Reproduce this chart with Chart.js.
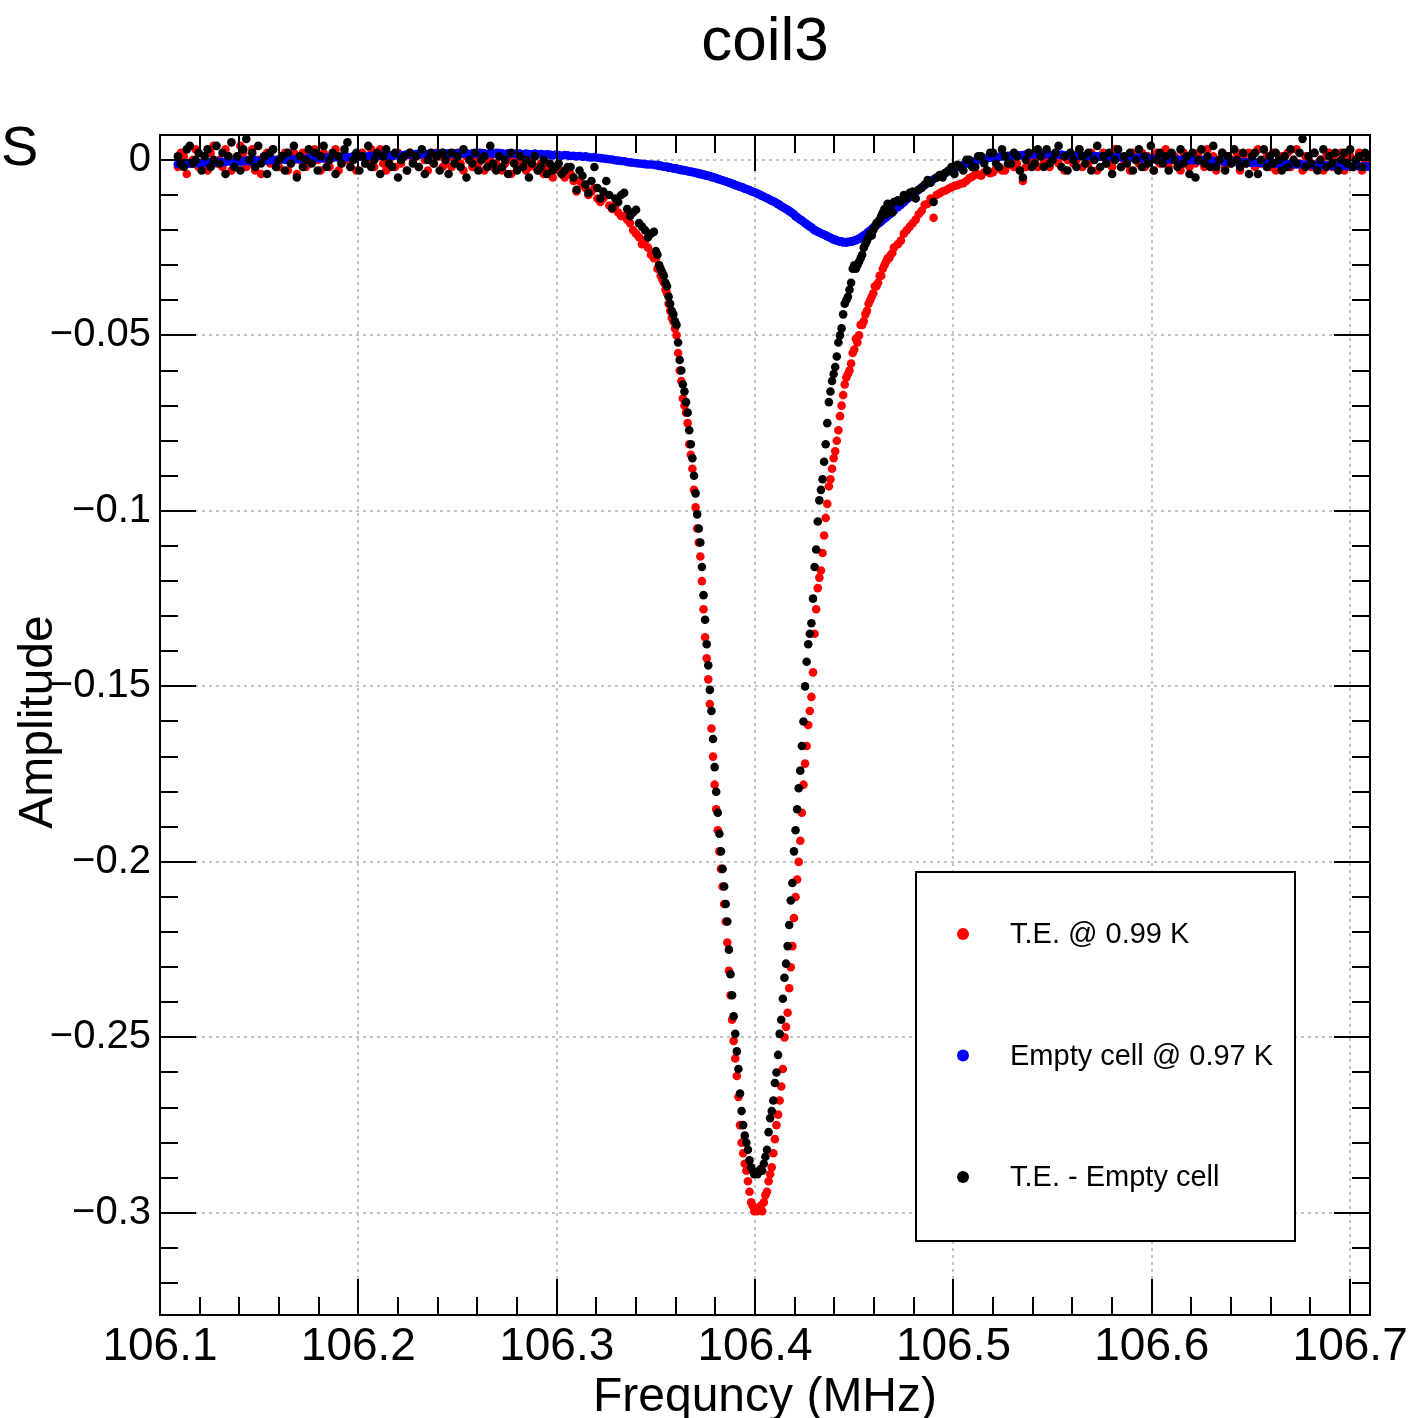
<!DOCTYPE html>
<html>
<head>
<meta charset="utf-8">
<script src="https://cdn.jsdelivr.net/npm/chart.js@4.4.1/dist/chart.umd.min.js"></script>
<style>
html,body{margin:0;padding:0;background:#fff}
#wrap{width:1414px;height:1418px}
</style>
</head>
<body>
<div id="wrap"><canvas id="c" width="1414" height="1418"></canvas></div>
<script>
/* frequency sweep: three segments, finer step across the dip */
const sweepA = {start: 106.109, step: 0.0015, count: 161};
const sweepB = {start: 106.350, step: 0.0008, count: 151};
const sweepC = {start: 106.472, step: 0.0015, count: 159};

const seriesLabels = ['T.E. @ 0.99 K', 'Empty cell @ 0.97 K', 'T.E. - Empty cell'];
const seriesColors = ['#ff0000', '#0000ff', '#000000'];

/* T.E. @ 0.99 K */
const teValues = [
// A
-0.002,0.002,0.001,-0.004,-0.001,0.000,0.003,-0.002,-0.001,0.001,
-0.003,0.002,0.004,-0.001,0.000,-0.002,0.003,0.001,-0.003,-0.001,
0.001,0.004,0.002,-0.002,-0.001,0.003,-0.003,0.000,-0.004,0.001,
0.002,-0.001,0.003,0.000,-0.002,0.001,0.002,-0.003,-0.001,0.002,
-0.004,0.000,0.002,-0.002,-0.001,0.001,0.003,0.000,-0.003,0.002,
0.000,-0.002,0.001,0.003,-0.003,-0.001,0.002,0.000,-0.002,0.001,
-0.003,0.001,0.002,-0.001,0.000,0.003,-0.002,0.001,0.003,-0.001,
-0.003,0.000,0.001,-0.002,0.002,-0.001,0.001,-0.003,0.002,0.000,
0.001,-0.002,0.002,0.000,-0.003,0.001,-0.001,0.002,0.001,-0.002,
-0.001,0.001,-0.002,0.000,0.002,-0.001,-0.003,0.001,0.000,-0.002,
0.001,-0.001,0.002,-0.003,0.000,0.001,-0.002,-0.001,0.002,-0.003,
-0.001,0.000,-0.004,0.001,-0.002,-0.001,0.001,-0.003,-0.002,0.000,
-0.002,-0.003,-0.001,-0.004,-0.002,-0.003,-0.005,-0.002,-0.003,-0.004,
-0.005,-0.003,-0.004,-0.006,-0.009,-0.006,-0.007,-0.008,-0.010,-0.009,
-0.008,-0.011,-0.012,-0.011,-0.010,-0.013,-0.014,-0.013,-0.015,-0.016,
-0.016,-0.017,-0.018,-0.020,-0.021,-0.022,-0.024,-0.023,-0.025,-0.027,
-0.028,
// B
-0.028,-0.031,-0.030,-0.033,-0.034,-0.035,-0.037,-0.038,-0.041,-0.043,
-0.045,-0.046,-0.048,-0.050,-0.055,-0.060,-0.063,-0.068,-0.070,-0.072,
-0.075,-0.081,-0.084,-0.088,-0.094,-0.099,-0.105,-0.109,-0.113,-0.120,
-0.128,-0.136,-0.142,-0.148,-0.155,-0.162,-0.170,-0.178,-0.185,-0.191,
-0.197,-0.202,-0.207,-0.212,-0.217,-0.223,-0.231,-0.238,-0.245,-0.251,
-0.256,-0.261,-0.267,-0.275,-0.280,-0.283,-0.286,-0.288,-0.291,-0.294,
-0.297,-0.298,-0.2995,-0.299,-0.2995,-0.299,-0.298,-0.2995,-0.297,-0.295,
-0.294,-0.291,-0.289,-0.287,-0.283,-0.279,-0.275,-0.272,-0.268,-0.264,
-0.259,-0.250,-0.247,-0.243,-0.236,-0.230,-0.224,-0.216,-0.210,-0.205,
-0.200,-0.194,-0.186,-0.178,-0.172,-0.167,-0.161,-0.157,-0.153,-0.146,
-0.135,-0.128,-0.122,-0.119,-0.117,-0.112,-0.107,-0.102,-0.098,-0.093,
-0.091,-0.088,-0.085,-0.083,-0.080,-0.077,-0.073,-0.070,-0.067,-0.064,
-0.062,-0.061,-0.060,-0.058,-0.055,-0.054,-0.051,-0.052,-0.050,-0.047,
-0.047,-0.046,-0.044,-0.043,-0.041,-0.040,-0.039,-0.038,-0.036,-0.036,
-0.035,-0.033,-0.033,-0.031,-0.030,-0.029,-0.028,-0.028,-0.027,-0.0265,
-0.025,
// C
-0.024,-0.023,-0.021,-0.020,-0.019,-0.018,-0.017,-0.0155,-0.0145,-0.0128,
-0.0125,-0.011,-0.0165,-0.010,-0.0095,-0.009,-0.0087,-0.0082,-0.0078,-0.0074,
-0.0072,-0.0068,-0.0066,-0.006,-0.0052,-0.0048,-0.004,-0.0042,-0.0045,-0.0035,
-0.003,-0.0038,-0.0035,-0.0025,-0.002,-0.003,-0.003,-0.0015,-0.001,-0.002,
-0.001,-0.003,-0.006,-0.002,0.001,-0.001,0.000,-0.002,0.002,-0.001,
0.001,-0.002,0.000,0.002,-0.001,0.001,-0.003,0.000,0.002,-0.001,
0.000,0.003,-0.002,0.001,-0.001,0.002,0.000,-0.003,0.001,0.002,
-0.001,0.000,-0.002,0.003,0.001,-0.002,0.000,0.001,-0.003,0.002,
0.000,-0.001,0.002,-0.002,0.001,0.000,-0.003,0.002,-0.001,0.001,
0.003,-0.002,0.000,0.001,-0.001,-0.003,0.002,0.000,-0.002,0.001,
-0.001,0.002,0.000,-0.002,0.003,-0.001,0.001,-0.003,0.000,0.002,
-0.002,0.001,-0.001,0.000,0.002,-0.003,0.001,-0.001,0.002,0.000,
-0.002,0.003,-0.001,0.000,0.001,-0.002,0.002,-0.003,0.000,0.001,
-0.001,0.002,-0.002,0.000,0.003,-0.001,-0.003,0.001,0.000,-0.002,
0.002,-0.001,0.000,-0.003,0.001,0.002,-0.002,0.000,-0.001,0.002,
-0.003,0.000,0.001,-0.002,-0.001,0.002,-0.003,0.000,-0.001
];

/* Empty cell @ 0.97 K */
const emptyValues = [
// A
-0.0012,-0.0011,-0.0010,-0.0012,-0.0009,-0.0011,-0.0008,-0.0010,-0.0009,-0.0007,
-0.0009,-0.0006,-0.0008,-0.0007,-0.0005,-0.0007,-0.0006,-0.0004,-0.0006,-0.0005,
-0.0003,-0.0005,-0.0004,-0.0002,-0.0004,-0.0003,-0.0001,-0.0003,-0.0002,0.0000,
-0.0002,-0.0001,0.0001,-0.0001,0.0000,0.0002,0.0000,0.0001,0.0003,0.0001,
0.0002,0.0004,0.0002,0.0003,0.0005,0.0003,0.0004,0.0006,0.0004,0.0005,
0.0007,0.0005,0.0006,0.0008,0.0006,0.0007,0.0009,0.0007,0.0008,0.0010,
0.0008,0.0009,0.0011,0.0009,0.0010,0.0012,0.0010,0.0011,0.0013,0.0011,
0.0012,0.0014,0.0012,0.0013,0.0015,0.0013,0.0014,0.0016,0.0014,0.0015,
0.0017,0.0015,0.0016,0.0018,0.0016,0.0017,0.0019,0.0017,0.0018,0.0020,
0.0018,0.0019,0.0017,0.0019,0.0018,0.0020,0.0018,0.0019,0.0017,0.0019,
0.0018,0.0020,0.0018,0.0019,0.0017,0.0019,0.0018,0.0020,0.0018,0.0019,
0.0017,0.0019,0.0018,0.0017,0.0019,0.0018,0.0016,0.0018,0.0017,0.0016,
0.0018,0.0016,0.0017,0.0015,0.0016,0.0015,0.0013,0.0015,0.0014,0.0012,
0.0014,0.0013,0.0011,0.0012,0.0010,0.0011,0.0009,0.0010,0.0008,0.0007,
0.0008,0.0006,0.0005,0.0004,0.0003,0.0002,0.0001,-0.0001,-0.0002,-0.0003,
-0.0004,-0.0006,-0.0007,-0.0008,-0.0009,-0.0010,-0.0011,-0.0012,-0.0013,-0.0013,
-0.0014,
// B
-0.0015,-0.0014,-0.0017,-0.0016,-0.0018,-0.0019,-0.0020,-0.0019,-0.0022,-0.0021,
-0.0023,-0.0024,-0.0025,-0.0024,-0.0027,-0.0027,-0.0029,-0.0028,-0.0031,-0.0030,
-0.0032,-0.0033,-0.0034,-0.0034,-0.0036,-0.0037,-0.0037,-0.0040,-0.0039,-0.0042,
-0.0041,-0.0044,-0.0044,-0.0046,-0.0046,-0.0049,-0.0049,-0.0051,-0.0052,-0.0054,
-0.0055,-0.0057,-0.0058,-0.0060,-0.0061,-0.0063,-0.0064,-0.0066,-0.0068,-0.0069,
-0.0072,-0.0072,-0.0075,-0.0076,-0.0078,-0.0079,-0.0082,-0.0083,-0.0085,-0.0086,
-0.0089,-0.0090,-0.0092,-0.0094,-0.0096,-0.0098,-0.0101,-0.0102,-0.0105,-0.0107,
-0.0109,-0.0111,-0.0114,-0.0116,-0.0118,-0.0120,-0.0123,-0.0126,-0.0128,-0.0132,
-0.0134,-0.0137,-0.0140,-0.0142,-0.0146,-0.0148,-0.0152,-0.0155,-0.0161,-0.0163,
-0.0167,-0.0170,-0.0173,-0.0176,-0.0180,-0.0183,-0.0186,-0.0190,-0.0192,-0.0197,
-0.0200,-0.0202,-0.0205,-0.0206,-0.0209,-0.0211,-0.0213,-0.0215,-0.0218,-0.0219,
-0.0222,-0.0224,-0.0227,-0.0227,-0.0230,-0.0231,-0.0233,-0.0232,-0.0235,-0.0234,
-0.0236,-0.0233,-0.0234,-0.0232,-0.0232,-0.0230,-0.0229,-0.0226,-0.0225,-0.0221,
-0.0219,-0.0215,-0.0213,-0.0208,-0.0205,-0.0201,-0.0197,-0.0193,-0.0190,-0.0186,
-0.0182,-0.0179,-0.0175,-0.0171,-0.0167,-0.0164,-0.0160,-0.0156,-0.0153,-0.0149,
-0.0145,
// C
-0.0135,-0.0128,-0.0121,-0.0113,-0.0106,-0.0099,-0.0092,-0.0085,-0.0078,-0.0072,
-0.0066,-0.0061,-0.0055,-0.0051,-0.0046,-0.0042,-0.0037,-0.0033,-0.0029,-0.0025,
-0.0021,-0.0018,-0.0014,-0.0011,-0.0008,-0.0006,-0.0003,-0.0001,0.0001,0.0003,
0.0004,0.0006,0.0007,0.0008,0.0009,0.0010,0.0011,0.0012,0.0012,0.0013,
0.0014,0.0013,0.0014,0.0015,0.0014,0.0015,0.0016,0.0015,0.0016,0.0015,
0.0016,0.0015,0.0014,0.0015,0.0014,0.0015,0.0013,0.0014,0.0013,0.0012,
0.0013,0.0012,0.0011,0.0012,0.0011,0.0010,0.0011,0.0010,0.0009,0.0010,
0.0009,0.0008,0.0009,0.0008,0.0007,0.0008,0.0007,0.0006,0.0007,0.0006,
0.0005,0.0006,0.0005,0.0004,0.0005,0.0004,0.0003,0.0004,0.0003,0.0002,
0.0003,0.0002,0.0001,0.0002,0.0001,0.0000,0.0001,0.0000,-0.0001,0.0000,
-0.0001,-0.0002,-0.0001,-0.0002,-0.0003,-0.0002,-0.0003,-0.0004,-0.0003,-0.0004,
-0.0005,-0.0004,-0.0005,-0.0006,-0.0005,-0.0006,-0.0007,-0.0006,-0.0007,-0.0008,
-0.0007,-0.0008,-0.0009,-0.0008,-0.0009,-0.0010,-0.0009,-0.0010,-0.0011,-0.0010,
-0.0011,-0.0012,-0.0011,-0.0012,-0.0013,-0.0012,-0.0013,-0.0014,-0.0013,-0.0014,
-0.0015,-0.0014,-0.0015,-0.0016,-0.0015,-0.0016,-0.0017,-0.0016,-0.0017,-0.0016,
-0.0017,-0.0018,-0.0017,-0.0018,-0.0017,-0.0018,-0.0019,-0.0018,-0.0019
];

/* T.E. - Empty cell */
const diffValues = [
// A
0.001,-0.001,-0.002,0.003,0.004,-0.001,0.000,0.002,-0.003,0.001,
0.003,-0.002,0.000,0.004,-0.001,0.002,-0.004,0.001,0.005,-0.002,
0.001,-0.003,0.003,0.006,0.000,0.002,-0.002,0.004,-0.001,0.001,
-0.004,0.002,0.003,-0.002,0.000,0.001,-0.003,0.002,-0.001,0.004,
-0.005,0.001,-0.002,0.000,0.003,-0.001,0.002,-0.003,0.001,0.004,
-0.002,0.000,0.002,-0.004,0.001,-0.001,0.003,0.005,-0.002,0.000,
0.002,-0.003,0.001,-0.001,0.004,-0.002,0.000,0.002,-0.004,0.001,
0.003,-0.001,-0.002,0.002,-0.005,0.000,0.001,-0.003,0.002,-0.001,
0.001,-0.002,0.003,-0.004,0.000,0.002,-0.001,0.001,-0.003,0.002,
0.000,-0.004,0.002,-0.001,0.001,-0.002,0.003,-0.005,0.000,-0.001,
0.002,-0.003,0.000,0.001,-0.002,0.004,-0.001,-0.003,0.001,-0.002,
0.000,-0.004,0.002,-0.001,-0.003,0.001,-0.002,0.000,-0.005,-0.001,
0.001,-0.003,-0.002,0.000,-0.004,-0.001,-0.003,-0.002,-0.001,-0.004,
-0.003,-0.002,-0.002,-0.005,-0.0085,-0.003,-0.0045,-0.007,-0.0094,-0.006,
-0.002,-0.008,-0.011,-0.009,-0.006,-0.010,-0.0137,-0.011,-0.012,-0.010,
-0.0094,-0.014,-0.016,-0.015,-0.0142,-0.018,-0.019,-0.020,-0.022,-0.021,
-0.0205,
// B
-0.026,-0.027,-0.030,-0.031,-0.032,-0.033,-0.035,-0.036,-0.039,-0.041,
-0.043,-0.044,-0.046,-0.047,-0.052,-0.057,-0.060,-0.064,-0.066,-0.069,
-0.072,-0.077,-0.081,-0.085,-0.090,-0.095,-0.101,-0.105,-0.109,-0.116,
-0.124,-0.131,-0.138,-0.144,-0.151,-0.157,-0.165,-0.173,-0.180,-0.186,
-0.192,-0.197,-0.202,-0.207,-0.212,-0.217,-0.225,-0.232,-0.238,-0.244,
-0.249,-0.254,-0.259,-0.266,-0.271,-0.275,-0.278,-0.280,-0.282,-0.285,
-0.287,-0.288,-0.289,-0.2885,-0.289,-0.288,-0.2875,-0.288,-0.286,-0.284,
-0.282,-0.277,-0.273,-0.271,-0.268,-0.263,-0.260,-0.255,-0.249,-0.245,
-0.239,-0.233,-0.229,-0.224,-0.218,-0.211,-0.206,-0.197,-0.191,-0.185,
-0.179,-0.174,-0.167,-0.160,-0.150,-0.143,-0.138,-0.135,-0.132,-0.125,
-0.116,-0.111,-0.103,-0.097,-0.094,-0.091,-0.086,-0.081,-0.075,-0.069,
-0.066,-0.063,-0.061,-0.059,-0.056,-0.052,-0.050,-0.048,-0.044,-0.041,
-0.040,-0.039,-0.037,-0.035,-0.031,-0.030,-0.031,-0.030,-0.029,-0.028,
-0.027,-0.025,-0.024,-0.023,-0.022,-0.021,-0.0215,-0.020,-0.019,-0.018,
-0.0177,-0.017,-0.016,-0.015,-0.014,-0.0155,-0.0125,-0.013,-0.014,-0.015,
-0.012,
// C
-0.0115,-0.012,-0.010,-0.011,-0.0094,-0.009,-0.011,-0.0085,-0.008,-0.007,
-0.0057,-0.0065,-0.012,-0.005,-0.0043,-0.005,-0.0037,-0.003,-0.002,-0.004,
-0.0014,-0.002,-0.003,0.000,0.000,-0.002,-0.002,0.001,0.001,-0.001,
-0.003,0.002,0.002,-0.001,-0.002,0.003,0.001,-0.001,-0.001,0.002,
0.001,-0.003,-0.005,0.000,0.002,-0.002,-0.001,0.003,0.001,-0.002,
0.003,-0.001,0.000,0.002,0.004,-0.002,0.001,-0.003,0.002,0.000,
-0.002,0.003,0.001,-0.001,0.002,-0.003,0.000,0.004,-0.002,0.001,
-0.001,0.002,-0.004,0.000,0.003,-0.002,0.001,-0.001,0.002,-0.003,
0.000,0.003,-0.002,0.001,-0.001,0.004,-0.003,0.000,0.002,-0.001,
0.001,-0.003,0.002,0.000,-0.002,0.003,-0.001,0.001,-0.004,0.002,
-0.005,0.000,0.003,-0.001,0.001,-0.002,0.004,-0.002,0.000,0.002,
-0.003,0.001,-0.001,0.003,0.000,-0.002,0.002,-0.001,-0.004,0.001,
0.002,-0.004,0.000,0.003,-0.002,0.001,-0.001,0.002,0.000,-0.003,
0.001,-0.002,0.003,0.000,-0.001,0.002,0.006,-0.002,0.001,-0.001,
0.002,-0.003,0.000,0.003,-0.002,0.001,-0.001,0.002,-0.003,0.000,
0.002,-0.001,0.003,-0.002,0.000,0.001,-0.002,0.002,0.001
];

/* axis ticks: major every 0.1 MHz / 0.05, minor every 0.02 MHz / 0.01 */
const xRange = [106.1, 106.71];
const yRange = [-0.3291, 0.0071];
const xMinorTicks = [106.1,106.12,106.14,106.16,106.18,106.2,106.22,106.24,106.26,106.28,106.3,106.32,106.34,106.36,106.38,106.4,106.42,106.44,106.46,106.48,106.5,106.52,106.54,106.56,106.58,106.6,106.62,106.64,106.66,106.68,106.7];
const yMinorTicks = [0,-0.01,-0.02,-0.03,-0.04,-0.05,-0.06,-0.07,-0.08,-0.09,-0.1,-0.11,-0.12,-0.13,-0.14,-0.15,-0.16,-0.17,-0.18,-0.19,-0.2,-0.21,-0.22,-0.23,-0.24,-0.25,-0.26,-0.27,-0.28,-0.29,-0.3,-0.31,-0.32];

const FONT = "'Liberation Sans', Arial, Helvetica, sans-serif";

function sweepFreqs(s){
  let out = [];
  for (let i = 0; i < s.count; i++) out.push(+(s.start + i*s.step).toFixed(4));
  return out;
}
const freqs = [].concat(sweepFreqs(sweepA), sweepFreqs(sweepB), sweepFreqs(sweepC));

function toPoints(vals){
  return vals.map((v,i) => ({x: freqs[i], y: v}));
}

const rootStyle = {
  id: 'rootStyle',
  beforeDraw(chart){
    const ctx = chart.ctx;
    ctx.save();
    ctx.fillStyle = '#fff';
    ctx.fillRect(0, 0, chart.width, chart.height);
    ctx.restore();
  },
  afterDatasetsDraw(chart){
    const ctx = chart.ctx, a = chart.chartArea;
    const xs = chart.scales.x, ys = chart.scales.y;
    ctx.save();
    ctx.strokeStyle = '#000';
    ctx.lineWidth = 2;
    ctx.beginPath();
    xMinorTicks.forEach((v,k) => {
      const px = Math.round(xs.getPixelForValue(v));
      const len = k % 5 === 0 ? 36 : 18;
      ctx.moveTo(px, a.bottom); ctx.lineTo(px, a.bottom - len);
      ctx.moveTo(px, a.top); ctx.lineTo(px, a.top + len);
    });
    yMinorTicks.forEach((v,k) => {
      const py = Math.round(ys.getPixelForValue(v));
      const len = k % 5 === 0 ? 36 : 18;
      ctx.moveTo(a.left, py); ctx.lineTo(a.left + len, py);
      ctx.moveTo(a.right, py); ctx.lineTo(a.right - len, py);
    });
    ctx.stroke();
    ctx.strokeRect(a.left, a.top, a.right - a.left, a.bottom - a.top);

    // legend box
    const lx = 916, ly = 872, lw = 379, lh = 369;
    ctx.fillStyle = '#fff';
    ctx.fillRect(lx, ly, lw, lh);
    ctx.strokeRect(lx, ly, lw, lh);
    ctx.font = '29px ' + FONT;
    ctx.textBaseline = 'middle';
    ctx.textAlign = 'left';
    chart.data.datasets.forEach((ds, i) => {
      const cy = 934 + i*121.5;
      ctx.fillStyle = ds.pointBackgroundColor;
      ctx.beginPath();
      ctx.arc(963, cy, 6, 0, Math.PI*2);
      ctx.fill();
      ctx.fillStyle = '#000';
      ctx.fillText(ds.label, 1010, cy + 1);
    });
    ctx.restore();
  },
  afterDraw(chart){
    const ctx = chart.ctx;
    ctx.save();
    ctx.fillStyle = '#000';
    ctx.textBaseline = 'alphabetic';
    ctx.textAlign = 'center';
    ctx.font = '62px ' + FONT;
    ctx.fillText('coil3', 765, 60);
    ctx.font = '48px ' + FONT;
    ctx.fillText('Frequncy (MHz)', 765, 1411);
    ctx.textAlign = 'left';
    ctx.font = '56px ' + FONT;
    ctx.fillText('S', 1, 165);
    ctx.translate(52, 722);
    ctx.rotate(-Math.PI/2);
    ctx.textAlign = 'center';
    ctx.font = '48px ' + FONT;
    ctx.fillText('Amplitude', 0, 0);
    ctx.restore();
  }
};

const datasets = [teValues, emptyValues, diffValues].map((vals, i) => ({
  label: seriesLabels[i],
  data: toPoints(vals),
  showLine: false,
  pointRadius: 4.3,
  pointBorderWidth: 0,
  pointBackgroundColor: seriesColors[i],
  pointBorderColor: seriesColors[i],
  order: 3 - i
}));

new Chart(document.getElementById('c'), {
  type: 'scatter',
  data: {datasets: datasets},
  options: {
    responsive: false,
    animation: false,
    devicePixelRatio: 1,
    layout: {padding: {left: 0, top: 135, right: 44, bottom: 0}},
    plugins: {legend: {display: false}, tooltip: {enabled: false}},
    scales: {
      x: {
        type: 'linear',
        min: xRange[0], max: xRange[1],
        afterFit(s){ s.height = 103; s.paddingLeft = 0; s.paddingRight = 0; },
        grid: {color: '#c4c4c4', lineWidth: 2, drawTicks: false},
        border: {display: false, dash: [3, 4]},
        ticks: {
          stepSize: 0.1, includeBounds: false, autoSkip: false, maxRotation: 0,
          padding: 5, color: '#000', font: {family: FONT, size: 46},
          callback: v => v.toFixed(1)
        }
      },
      y: {
        type: 'linear',
        min: yRange[0], max: yRange[1],
        afterFit(s){ s.width = 160; s.paddingTop = 0; s.paddingBottom = 0; },
        grid: {color: '#c4c4c4', lineWidth: 2, drawTicks: false},
        border: {display: false, dash: [3, 4]},
        ticks: {
          stepSize: 0.05, includeBounds: false, autoSkip: false,
          padding: 9, color: '#000', font: {family: FONT, size: 40},
          callback: v => Math.abs(v) < 1e-9 ? '0' : String(Math.round(v*100)/100).replace('-', '\u2212')
        }
      }
    }
  },
  plugins: [rootStyle]
});
</script>
</body>
</html>
